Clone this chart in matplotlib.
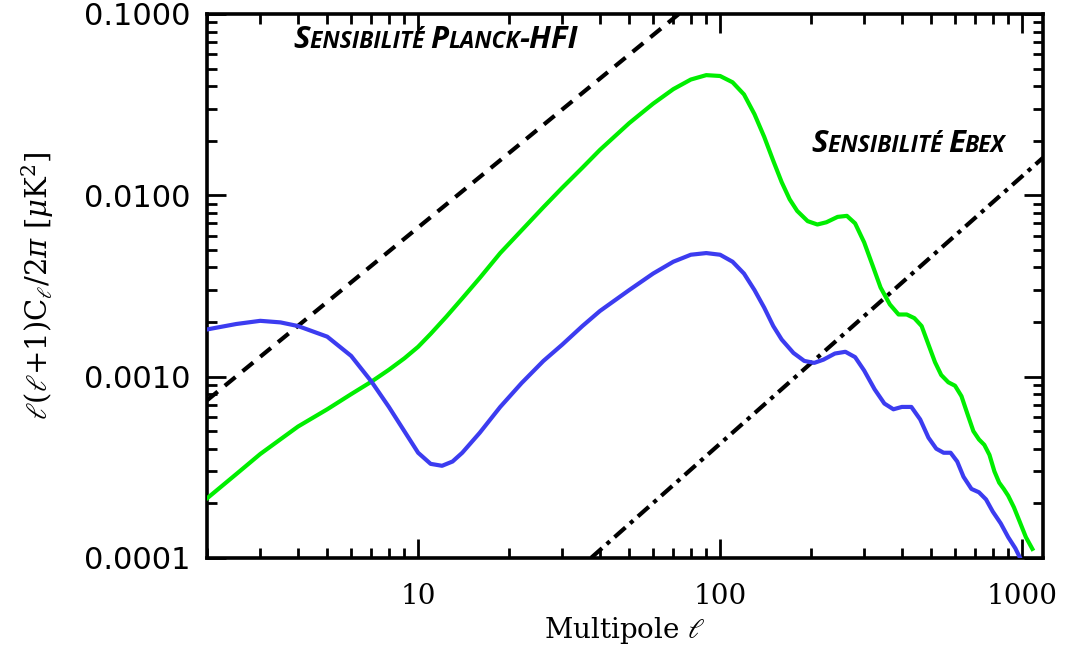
import matplotlib
matplotlib.use('Agg')
import matplotlib.pyplot as plt
import numpy as np
from matplotlib.ticker import LogLocator, FixedLocator, FuncFormatter, NullFormatter
from matplotlib.offsetbox import TextArea, HPacker, AnnotationBbox

plt.rcParams['mathtext.fontset'] = 'dejavuserif'

# green spectrum (multipole, l(l+1)Cl/2pi in uK^2)
ell_green = [2, 2.5, 3, 4, 5, 6, 7, 8, 9, 10, 11, 12.4, 14, 16, 18.7, 22, 26, 30, 35, 40, 50,
             60, 70, 80, 90, 100, 110, 120, 130, 140, 150, 160, 170, 180, 195, 210, 225, 245,
             263, 280, 300, 320, 340, 365, 390, 415, 440, 465, 490, 515, 540, 570, 600, 630,
             660, 690, 720, 750, 780, 810, 840, 870, 900, 940, 980, 1030, 1082]
cl_green = [0.000213, 0.00029, 0.000374, 0.00053, 0.00066, 0.0008, 0.000937, 0.00109, 0.00126,
            0.00146, 0.00172, 0.00214, 0.0027, 0.0035, 0.0048, 0.0064, 0.0086, 0.011, 0.0142,
            0.0178, 0.025, 0.032, 0.0385, 0.0435, 0.046, 0.0455, 0.042, 0.036, 0.028, 0.021,
            0.0155, 0.0118, 0.0095, 0.0082, 0.0072, 0.0069, 0.0071, 0.0076, 0.0077, 0.007,
            0.0055, 0.0041, 0.0031, 0.0025, 0.0022, 0.0022, 0.0021, 0.0019, 0.0015, 0.0012,
            0.00102, 0.00093, 0.00089, 0.00078, 0.00062, 0.0005, 0.00045, 0.00042, 0.00037,
            0.0003, 0.00026, 0.00024, 0.00022, 0.00019, 0.00016, 0.00013, 0.000112]

# blue spectrum
ell_blue = [2, 2.5, 3, 3.5, 4, 5, 6, 7, 8, 9, 10, 11, 12, 13, 14, 16, 18.7, 22, 26, 30, 35,
            40, 50, 60, 70, 80, 90, 100, 110, 120, 130, 140, 150, 160, 175, 190, 205, 220,
            240, 260, 280, 300, 325, 350, 375, 400, 430, 460, 490, 520, 550, 580, 610, 640,
            680, 720, 760, 800, 850, 900, 950, 985]
cl_blue = [0.00182, 0.00195, 0.00203, 0.00199, 0.0019, 0.00166, 0.0013, 0.00094, 0.00068,
           0.0005, 0.00038, 0.00033, 0.000322, 0.00034, 0.00038, 0.00049, 0.00068, 0.00092,
           0.00122, 0.0015, 0.0019, 0.0023, 0.003, 0.0037, 0.0043, 0.0047, 0.0048, 0.0047,
           0.0043, 0.0037, 0.003, 0.0024, 0.0019, 0.0016, 0.00135, 0.00122, 0.00119, 0.00124,
           0.00134, 0.00137, 0.00128, 0.00108, 0.00085, 0.00071, 0.00066, 0.00068, 0.00068,
           0.00058, 0.00046, 0.0004, 0.00038, 0.00038, 0.00034, 0.00028, 0.00024, 0.00023,
           0.00021, 0.00018, 0.000155, 0.00013, 0.000113, 0.0001]

# sensitivity lines (end points)
ell_planck = [2, 73]
cl_planck = [0.00074, 0.1]
ell_ebex = [37.4, 1173]
cl_ebex = [0.0001, 0.0161]

fig = plt.figure(figsize=(10.73, 6.54), dpi=100)
ax = fig.add_axes([0.193, 0.147, 0.779, 0.8316])

ax.plot(ell_green, cl_green, color='#00ee00', lw=3, zorder=3, solid_joinstyle='round')
ax.plot(ell_blue, cl_blue, color='#3c3cf0', lw=3, zorder=3, solid_joinstyle='round')
ax.plot(ell_planck, cl_planck, color='black', lw=3, ls=(0, (3.3, 2.2)), zorder=2)
ax.plot(ell_ebex, cl_ebex, color='black', lw=3, ls=(0, (3.5, 1.5, 1, 1.5)), zorder=2)

ax.set_xscale('log')
ax.set_yscale('log')
ax.set_xlim(2, 1173)
ax.set_ylim(1e-4, 0.1)

ax.xaxis.set_major_locator(FixedLocator([10, 100, 1000]))
ax.xaxis.set_minor_locator(LogLocator(base=10, subs=np.arange(2, 10)))
ax.xaxis.set_minor_formatter(NullFormatter())
ax.xaxis.set_major_formatter(FuncFormatter(lambda v, p: f'{v:.0f}'))
ax.yaxis.set_major_locator(FixedLocator([1e-4, 1e-3, 1e-2, 1e-1]))
ax.yaxis.set_minor_locator(LogLocator(base=10, subs=np.arange(2, 10)))
ax.yaxis.set_minor_formatter(NullFormatter())
ax.yaxis.set_major_formatter(FuncFormatter(lambda v, p: f'{v:.4f}'))

ax.tick_params(which='both', direction='in', top=True, right=True, width=2, color='black')
ax.tick_params(which='major', length=14)
ax.tick_params(which='minor', length=7)
ax.tick_params(axis='x', which='major', pad=18)
ax.tick_params(axis='y', which='major', pad=12)
for s in ax.spines.values():
    s.set_linewidth(2.6)

for lab in ax.get_yticklabels():
    lab.set_fontfamily('DejaVu Sans')
    lab.set_fontsize(22)
for lab in ax.get_xticklabels():
    lab.set_fontfamily('DejaVu Serif')
    lab.set_fontsize(20)

ax.set_xlabel(r'Multipole $\ell$', fontfamily='DejaVu Serif', fontsize=20, labelpad=4)
ax.set_ylabel(r'$\ell(\ell{+}1)\mathrm{C}_\ell/2\pi\ [\mu\mathrm{K}^2]$', fontsize=21, labelpad=20,
              fontfamily='DejaVu Serif')


def small_caps(parts, big=22.5, small=16.5):
    boxes = []
    for txt, is_big in parts:
        boxes.append(TextArea(txt, textprops=dict(family='Open Sans', weight='bold', style='italic',
                                                  size=big if is_big else small)))
    return HPacker(children=boxes, align='baseline', pad=0, sep=0)


planck = small_caps([('S', True), ('ENSIBILITÉ ', False), ('P', True), ('LANCK', False), ('-HFI', True)])
ebex = small_caps([('S', True), ('ENSIBILITÉ ', False), ('E', True), ('BEX', False)])
ax.add_artist(AnnotationBbox(planck, (293 / 1073, 1 - 40 / 654), xycoords='figure fraction',
                             box_alignment=(0, 0.5), frameon=False))
ax.add_artist(AnnotationBbox(ebex, (811 / 1073, 1 - 144 / 654), xycoords='figure fraction',
                             box_alignment=(0, 0.5), frameon=False))

fig.savefig('out.png', dpi=100)
